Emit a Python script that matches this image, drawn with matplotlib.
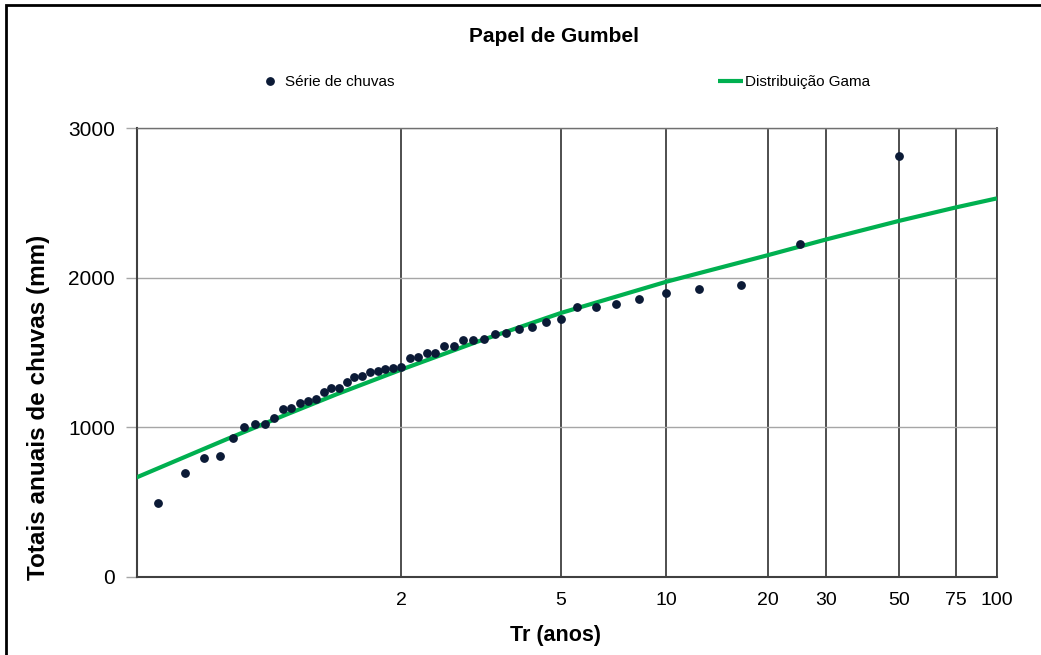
import numpy as np
import matplotlib
matplotlib.use('Agg')
import matplotlib.pyplot as plt
from matplotlib.patches import Rectangle

plt.rcParams['font.family'] = ['Liberation Sans', 'DejaVu Sans']

# totais anuais de chuva (mm), ordenados do maior para o menor
chuvas = [2815, 2227, 1949, 1922, 1900, 1856, 1826, 1806, 1804, 1722,
          1704, 1668, 1655, 1632, 1626, 1588, 1584, 1584, 1546, 1546,
          1499, 1499, 1472, 1461, 1403, 1394, 1390, 1377, 1372, 1343,
          1338, 1303, 1261, 1260, 1236, 1187, 1174, 1163, 1131, 1123,
          1060, 1020, 1020, 1004, 927, 808, 797, 695, 497]

# curva da distribuição gama (período de retorno -> precipitação)
tr_gama = [1.01, 1.1, 1.25, 1.5, 2, 3, 5, 10, 20, 30, 50, 75, 100]
gama = [660, 921, 1076, 1221, 1386, 1571, 1764, 1973, 2150, 2255, 2379, 2470, 2530]

tr_ticks = [2, 5, 10, 20, 30, 50, 75, 100]
y_ticks = [0, 1000, 2000, 3000]


def gumbel(tr):
    """variável reduzida de Gumbel para o período de retorno tr"""
    tr = np.asarray(tr, dtype=float)
    return -np.log(-np.log(1 - 1 / tr))


# posição de plotagem de Weibull: Tr = (n+1)/m
n = len(chuvas)
tr_obs = (n + 1) / np.arange(1, n + 1)

fig = plt.figure(figsize=(10.41, 6.55), dpi=100)
ax = fig.add_axes([137 / 1041, 1 - 577 / 655, 860 / 1041, 449 / 655])

linha, = ax.plot(gumbel(tr_gama), gama, color='#00b050', lw=3, zorder=3,
                 solid_capstyle='butt')
pontos, = ax.plot(gumbel(tr_obs), chuvas, 'o', ms=5.3, color='#0b1a36',
                  mec='#0b1a36', zorder=4)

ax.set_xlim(-1.513, gumbel(100))
ax.set_ylim(0, 3000)
ax.set_xticks(gumbel(tr_ticks))
ax.set_xticklabels([str(t) for t in tr_ticks])
ax.set_yticks(y_ticks)

ax.grid(axis='x', color='#404040', lw=1.3)
ax.grid(axis='y', color='#a6a6a6', lw=1)
ax.set_axisbelow(True)

ax.tick_params(axis='x', length=0, pad=11, labelsize=14)
ax.tick_params(axis='y', length=8, width=1, color='#a6a6a6', pad=8, labelsize=15)

ax.spines['left'].set_color('#404040')
ax.spines['left'].set_linewidth(1.5)
ax.spines['bottom'].set_color('#404040')
ax.spines['bottom'].set_linewidth(1.5)
ax.spines['top'].set_color('#707070')
ax.spines['top'].set_linewidth(1)
ax.spines['right'].set_color('#404040')
ax.spines['right'].set_linewidth(1.3)

fig.text(554 / 1041, 1 - 36 / 655, 'Papel de Gumbel', ha='center', va='center',
         fontsize=15, fontweight='bold')
fig.text(555 / 1041, 1 - 635 / 655, 'Tr (anos)', ha='center', va='center',
         fontsize=15.5, fontweight='bold')
fig.text(38.5 / 1041, 1 - 407 / 655, 'Totais anuais de chuvas (mm)', ha='center',
         va='center', rotation=90, fontsize=17.5, fontweight='bold')

fig.legend([pontos, linha], ['Série de chuvas', 'Distribuição Gama'],
           loc='center left', bbox_to_anchor=(258 / 1041, 1 - 82 / 655),
           ncol=2, frameon=False, fontsize=11, handlelength=1.6,
           handletextpad=0.15, columnspacing=21.2, borderpad=0, borderaxespad=0)

# moldura em volta da figura
fig.add_artist(Rectangle((6 / 1041, -0.05), 1.1, 1.05 - 5 / 655, fill=False,
                         lw=2, ec='black', transform=fig.transFigure, clip_on=False))

fig.savefig('out.png', dpi=100)
